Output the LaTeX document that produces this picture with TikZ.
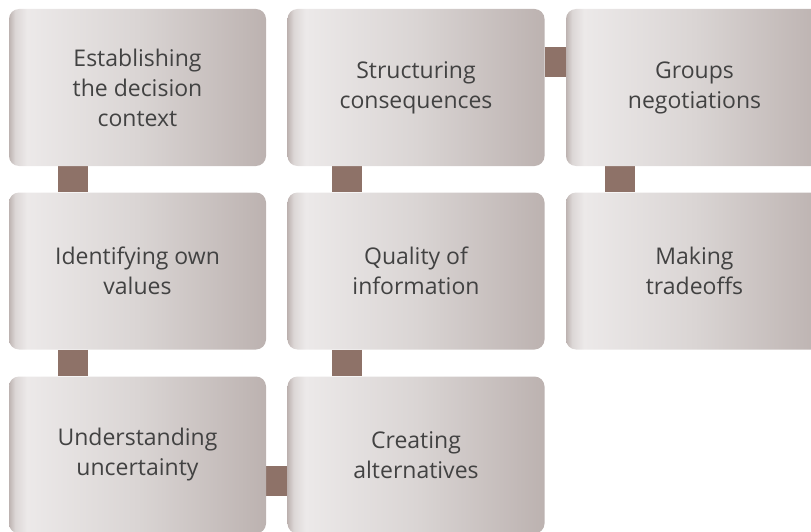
\documentclass[tikz,border=0pt]{standalone}
\usepackage{fontspec}
\setmainfont{Open Sans}
\usetikzlibrary{backgrounds}

\definecolor{edgecol}{HTML}{BDB3B1}
\definecolor{midcol}{HTML}{DCD7D6}
\definecolor{litecol}{HTML}{ECE9E9}
\definecolor{centcol}{HTML}{DAD5D4}
\definecolor{rightcol}{HTML}{BCB2B0}
\definecolor{linkcol}{HTML}{8E7268}
\definecolor{textcol}{HTML}{424242}

% Soft horizontal metallic shading for the step boxes
\pgfdeclarehorizontalshading{stepshade}{100bp}{%
  color(0bp)=(edgecol);
  color(25bp)=(edgecol);
  color(26.2bp)=(midcol);
  color(28.5bp)=(litecol);
  color(50bp)=(centcol);
  color(75bp)=(rightcol);
  color(100bp)=(rightcol)}

\tikzset{
  stepbox/.style={
    rectangle, rounded corners=10pt,
    minimum width=257pt, minimum height=157pt,
    inner sep=0pt, shading=stepshade,
    text=textcol, align=center,
    font=\fontsize{23}{30}\selectfont},
  link/.style={line width=30pt, linkcol},
  hlink/.style={line width=30pt, linkcol}
}

\begin{document}
\begin{tikzpicture}[x=1pt,y=-1pt]
  \useasboundingbox (0,0) rectangle (811,532);
  \clip (0,0) rectangle (811,532);

  % steps, row by row
  \node[stepbox] (context)  at (137.5,87.5) {Establishing\\the decision\\context};
  \node[stepbox] (conseq)   at (416,87.5)   {Structuring\\consequences};
  \node[stepbox] (groups)   at (694.5,87.5) {Groups\\negotiations};
  \node[stepbox] (values)   at (137.5,271)  {Identifying own\\values};
  \node[stepbox] (quality)  at (416,271)    {Quality of\\information};
  \node[stepbox] (tradeoff) at (694.5,271)  {Making\\tradeoffs};
  \node[stepbox] (uncert)   at (137.5,455)  {Understanding\\uncertainty};
  \node[stepbox] (altern)   at (416,455)    {Creating\\alternatives};

  % connecting bars
  \begin{scope}[on background layer]
    \draw[link] ([xshift=-64.5pt]context.south) -- ([xshift=-64.5pt]values.north);
    \draw[link] ([xshift=-64.5pt]values.south)  -- ([xshift=-64.5pt]uncert.north);
    \draw[link] ([xshift=-69pt]conseq.south)    -- ([xshift=-69pt]quality.north);
    \draw[link] ([xshift=-69pt]quality.south)   -- ([xshift=-69pt]altern.north);
    \draw[link] ([xshift=-74.5pt]groups.south)  -- ([xshift=-74.5pt]tradeoff.north);
    \draw[hlink] ([yshift=25.5pt]conseq.east)   -- ([yshift=25.5pt]groups.west);
    \draw[hlink] ([yshift=-25.5pt]uncert.east)  -- ([yshift=-25.5pt]altern.west);
  \end{scope}
\end{tikzpicture}
\end{document}
